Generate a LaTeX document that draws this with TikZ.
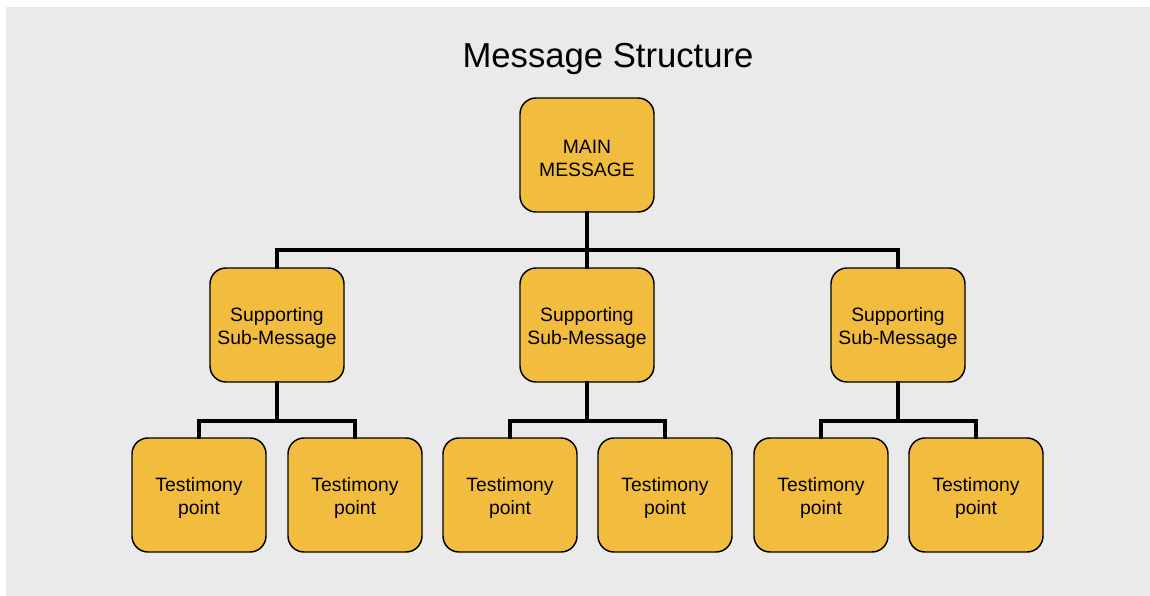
\documentclass[tikz,border=0pt]{standalone}
\usepackage{fontspec}
\setmainfont{Liberation Sans}
\usetikzlibrary{positioning,calc}
\definecolor{boxgold}{HTML}{F2BD3E}
\definecolor{panelgrey}{HTML}{EAEAEA}
\tikzset{
  msgbox/.style={
    draw=black,
    rounded corners=12pt,
    line width=1.1pt,
    fill=boxgold,
    minimum width=100.5pt,
    minimum height=85.5pt,
    align=center,
    inner sep=2pt,
    text height=32pt,
    font=\fontsize{14.5}{17}\selectfont
  },
  link/.style={line width=3.3pt, line cap=rect},
  title/.style={font=\fontsize{26}{30}\selectfont}
}

\begin{document}
\begin{tikzpicture}[x=0.75pt, y=-0.75pt]
  \useasboundingbox (0,0) rectangle (1150,596);
  \fill[panelgrey] (6,7) rectangle (1150,596);
  \node[title] (head) at (608,59) {Message Structure};
  % top level
  \node[msgbox] (main) at (587,155) {MAIN\\MESSAGE};
  % sub-messages
  \node[msgbox] (sub1) at (277,325) {Supporting\\Sub-Message};
  \node[msgbox] (sub2) at (587,325) {Supporting\\Sub-Message};
  \node[msgbox] (sub3) at (898,325) {Supporting\\Sub-Message};
  % testimony points
  \node[msgbox] (t11) at (199,495) {Testimony\\point};
  \node[msgbox] (t12) at (355,495) {Testimony\\point};
  \node[msgbox] (t21) at (510,495) {Testimony\\point};
  \node[msgbox] (t22) at (665,495) {Testimony\\point};
  \node[msgbox] (t31) at (821,495) {Testimony\\point};
  \node[msgbox] (t32) at (976,495) {Testimony\\point};
  % connectors
  \coordinate (j0) at (587,250);
  \draw[link] (main.south) -- (sub2.north);
  \draw[link] (sub1.north) |- (j0) -| (sub3.north);
  \foreach \s in {1,2,3} {
    \coordinate (j\s) at ($(sub\s.south)+(0,38)$);
    \draw[link] (sub\s.south) -- (j\s);
    \draw[link] (t\s1.north) |- (j\s) -| (t\s2.north);
  }
\end{tikzpicture}
\end{document}
